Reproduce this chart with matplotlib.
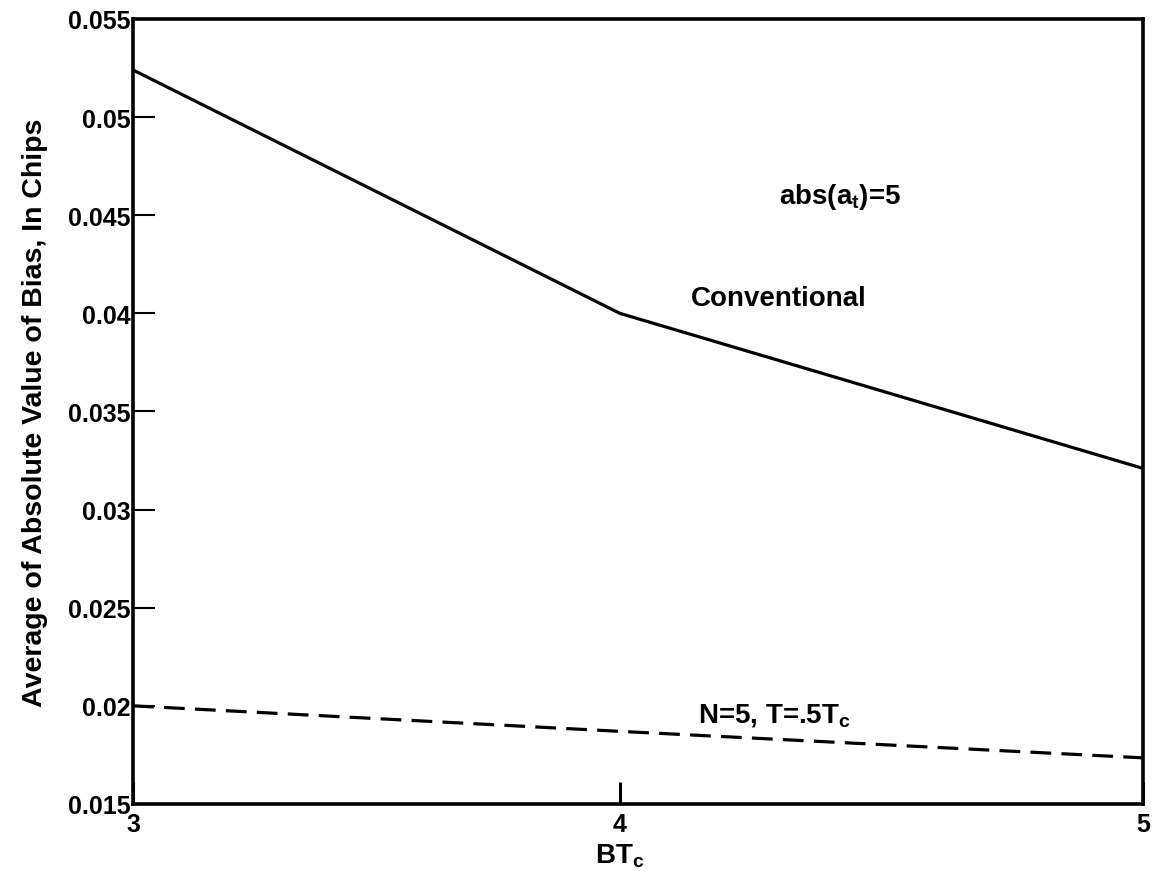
import matplotlib
matplotlib.use("Agg")
import matplotlib.pyplot as plt
import numpy as np

plt.rcParams['font.family'] = ['Liberation Sans', 'DejaVu Sans']
plt.rcParams['font.weight'] = 'bold'
plt.rcParams['mathtext.fontset'] = 'custom'
plt.rcParams['mathtext.rm'] = 'Liberation Sans:bold'
plt.rcParams['mathtext.it'] = 'Liberation Sans:bold'
plt.rcParams['mathtext.bf'] = 'Liberation Sans:bold'

# data
bt = [3, 4, 5]
conventional = [0.0524, 0.0400, 0.0321]
n5_half = [0.0200, 0.0187, 0.01735]

x_ticks = [3, 4, 5]
y_ticks = [0.015, 0.02, 0.025, 0.03, 0.035, 0.04, 0.045, 0.05, 0.055]
y_tick_labels = ["0.015", "0.02", "0.025", "0.03", "0.035", "0.04", "0.045", "0.05", "0.055"]

# the original x axis is not evenly spaced: 4 sits left of centre
scale_pts = [3, 4, 5]
scale_pos = [0.0, 0.482, 1.0]


def fwd(x):
    return np.interp(x, scale_pts, scale_pos)


def inv(u):
    return np.interp(u, scale_pos, scale_pts)


fig = plt.figure(figsize=(11.62, 8.95), dpi=100)
ax = fig.add_axes([0.1145, 0.1006, 0.8691, 0.8771])
ax.set_xscale("function", functions=(fwd, inv))

ax.plot(bt, conventional, color="black", lw=2.3, solid_capstyle="butt")
ax.plot(bt, n5_half, color="black", lw=2.3, linestyle=(0, (6.5, 3.2)))

ax.set_xlim(3, 5)
ax.set_ylim(0.015, 0.055)
ax.set_xticks(x_ticks)
ax.set_xticklabels([str(v) for v in x_ticks])
ax.xaxis.set_minor_locator(matplotlib.ticker.NullLocator())
ax.set_yticks(y_ticks)
ax.set_yticklabels(y_tick_labels)

for s in ax.spines.values():
    s.set_linewidth(2.6)
ax.tick_params(axis="y", direction="in", length=16, width=1.5, labelsize=18, pad=2)
ax.tick_params(axis="x", direction="in", length=16, width=2.2, labelsize=18, pad=6)

ax.set_xlabel(r"BT$_{c}$", fontsize=20, fontweight="bold", labelpad=4)
ax.xaxis.label.set_x(0.482)
ax.set_ylabel("Average of Absolute Value of Bias, In Chips", fontsize=20.5,
              fontweight="bold", labelpad=14)

ax.text(4.305, 0.0456, r"abs(a$_{t}$)=5", fontsize=20, fontweight="bold")
ax.text(4.135, 0.0404, "Conventional", fontsize=20, fontweight="bold")
ax.text(4.15, 0.0192, r"N=5, T=.5T$_{c}$", fontsize=20, fontweight="bold")

fig.savefig("out.png", dpi=100)
